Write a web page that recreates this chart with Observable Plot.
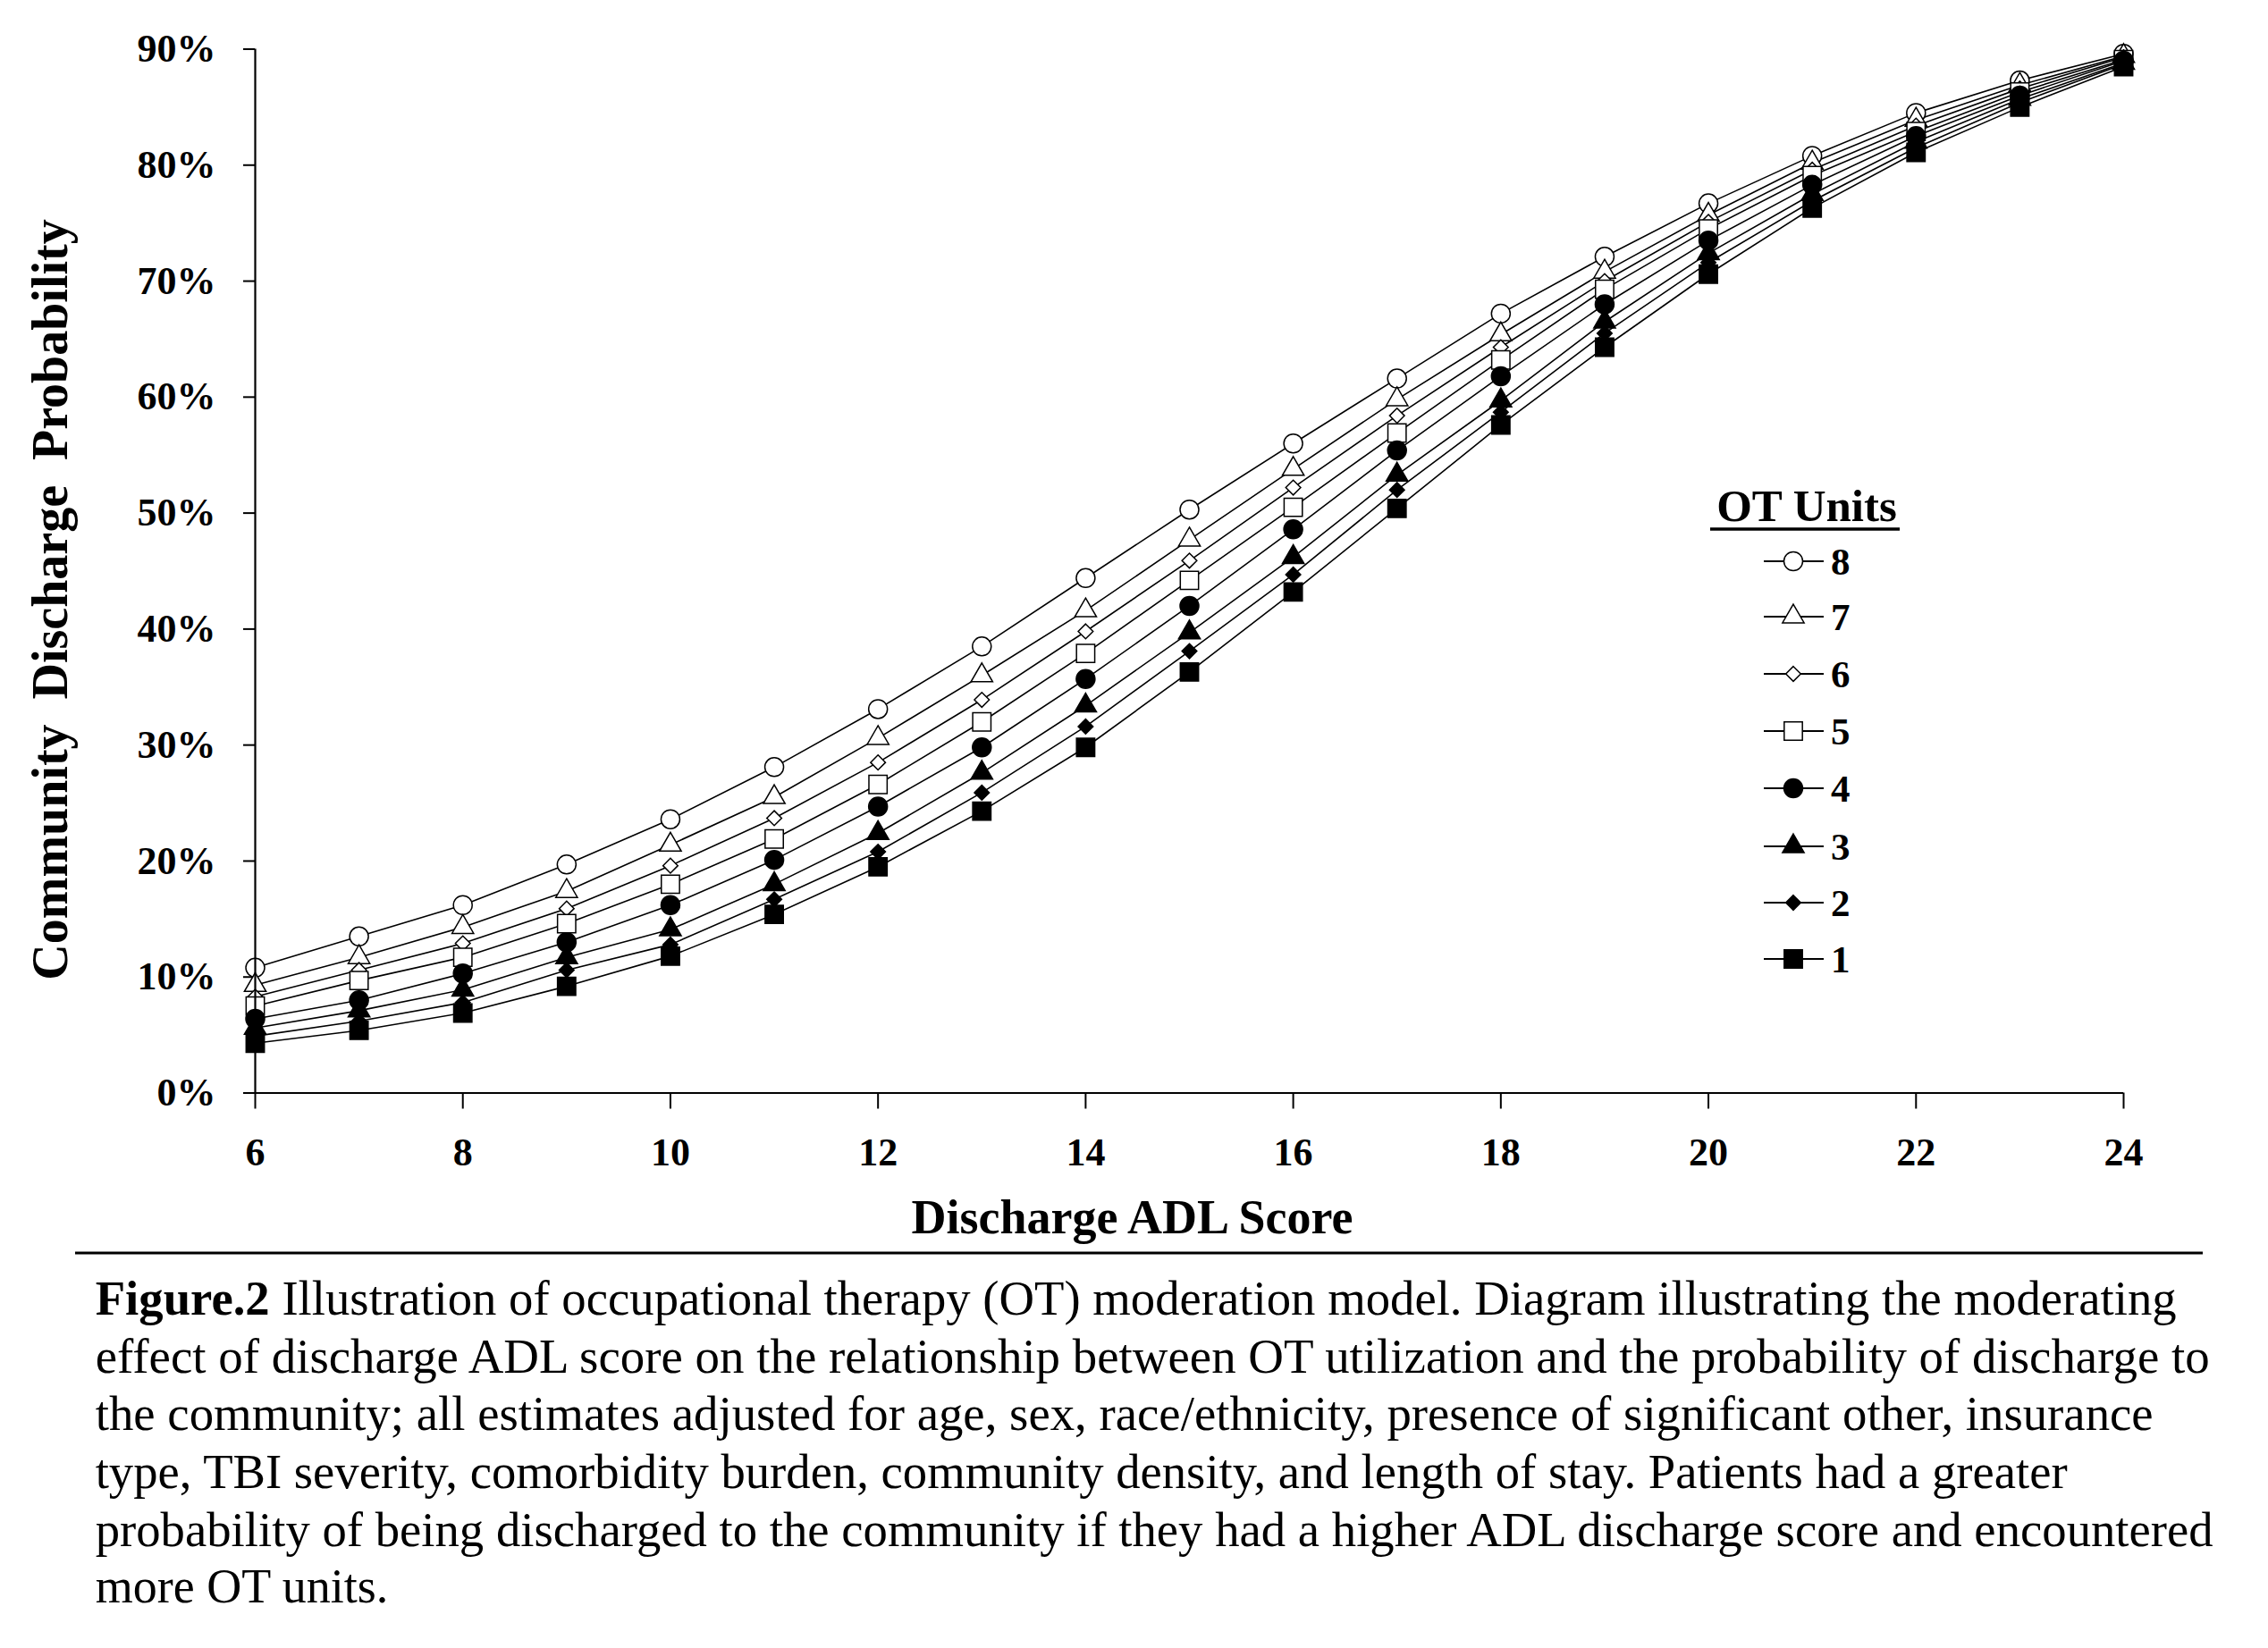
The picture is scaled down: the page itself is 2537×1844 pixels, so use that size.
<!DOCTYPE html>
<html>
<head>
<meta charset="utf-8">
<script src="https://cdn.jsdelivr.net/npm/d3@7"></script>
<script src="https://cdn.jsdelivr.net/npm/@observablehq/plot@0.6"></script>
<style>
  html, body { margin: 0; padding: 0; background: #fff; }
  body { width: 2537px; height: 1844px; position: relative; overflow: hidden;
         font-family: "Liberation Serif", "Times New Roman", serif; }
  #chart svg { display: block; }
  #legend { position: absolute; left: 0; top: 0; pointer-events: none; }
  #caption { display: block; }
</style>
</head>
<body>
<div id="chart"></div>
<svg id="legend" width="2537" height="1395"></svg>
<svg id="caption" width="2537" height="449"></svg>
<script>
// ---------------- data ----------------
const adlScores = [6, 7, 8, 9, 10, 11, 12, 13, 14, 15, 16, 17, 18, 19, 20, 21, 22, 23, 24];
const otUnits = [8, 7, 6, 5, 4, 3, 2, 1];
// community discharge probability (%) for each OT-units series, one value per ADL score
const ot8 = [10.8, 13.5, 16.2, 19.7, 23.6, 28.1, 33.1, 38.5, 44.4, 50.3, 56.0, 61.6, 67.2, 72.1, 76.7, 80.8, 84.5, 87.3, 89.6];
const ot7 = [9.3, 11.7, 14.3, 17.4, 21.4, 25.5, 30.6, 36.0, 41.6, 47.7, 53.8, 59.8, 65.4, 70.8, 75.7, 80.2, 83.9, 86.9, 89.4];
const ot6 = [8.3, 10.6, 12.9, 15.9, 19.6, 23.7, 28.5, 33.9, 39.8, 45.9, 52.2, 58.4, 64.3, 70.0, 75.1, 79.6, 83.4, 86.6, 89.3];
const ot5 = [7.5, 9.7, 11.7, 14.6, 18.0, 21.9, 26.6, 32.0, 37.9, 44.2, 50.5, 56.9, 63.2, 69.3, 74.5, 79.1, 82.9, 86.3, 89.1];
const ot4 = [6.4, 8.0, 10.3, 13.0, 16.2, 20.1, 24.7, 29.8, 35.7, 42.0, 48.6, 55.4, 61.8, 68.0, 73.5, 78.3, 82.5, 86.0, 89.0];
const ot3 = [5.6, 7.1, 8.9, 11.7, 14.1, 18.0, 22.4, 27.6, 33.4, 39.7, 46.2, 53.3, 59.7, 66.5, 72.4, 77.5, 82.0, 85.7, 88.8];
const ot2 = [4.9, 6.2, 7.8, 10.6, 12.8, 16.7, 20.8, 25.9, 31.6, 38.1, 44.7, 52.0, 58.7, 65.5, 71.6, 76.9, 81.5, 85.4, 88.7];
const ot1 = [4.3, 5.4, 6.9, 9.2, 11.8, 15.4, 19.5, 24.3, 29.8, 36.3, 43.2, 50.4, 57.6, 64.3, 70.6, 76.3, 81.1, 85.0, 88.5];

const xTicks = [6, 8, 10, 12, 14, 16, 18, 20, 22, 24];
const yTicks = [0, 10, 20, 30, 40, 50, 60, 70, 80, 90];
const xTitle = "Discharge ADL Score";
const yTitle = "Community  Discharge  Probability";
const legendTitle = "OT Units";
const captionBold = "Figure.2";
const captionLines = [
  " Illustration of occupational therapy (OT) moderation model. Diagram illustrating the moderating",
  "effect of discharge ADL score on the relationship between OT utilization and the probability of discharge to",
  "the community; all estimates adjusted for age, sex, race/ethnicity, presence of significant other, insurance",
  "type, TBI severity, comorbidity burden, community density, and length of stay. Patients had a greater",
  "probability of being discharged to the community if they had a higher ADL discharge score and encountered",
  "more OT units."
];

// ---------------- build table ----------------
const seriesList = [ot8, ot7, ot6, ot5, ot4, ot3, ot2, ot1];
const rows = otUnits.flatMap((u, i) => seriesList[i].map((v, j) => ({score: adlScores[j], units: u, pct: v})));

// marker styles per series (style only)
const markerStyle = {
  8: {symbol: "circle",   fill: "white", r: 10.5},
  7: {symbol: "triangle", fill: "white", r: 9},
  6: {symbol: "diamond2", fill: "white", r: 7.5},
  5: {symbol: "square",   fill: "white", r: 11.5},
  4: {symbol: "circle",   fill: "black", r: 10.5},
  3: {symbol: "triangle", fill: "black", r: 9},
  2: {symbol: "diamond2", fill: "black", r: 7.5},
  1: {symbol: "square",   fill: "black", r: 11.5}
};

const chart = Plot.plot({
  width: 2537,
  height: 1395,
  marginLeft: 285,
  marginRight: 162,
  marginTop: 54.5,
  marginBottom: 172.5,
  x: {domain: [6, 24], label: null},
  y: {domain: [0, 90], label: null},
  style: {fontFamily: "'Liberation Serif', 'Times New Roman', serif", fontWeight: "bold", color: "black", background: "white", overflow: "visible"},
  marks: [
    Plot.axisX({ticks: xTicks, tickSize: 18, tickPadding: 32, fontSize: 44, strokeWidth: 2, label: null}),
    Plot.axisY({ticks: yTicks, tickFormat: d => d + "%", tickSize: 13, tickPadding: 31, fontSize: 44, strokeWidth: 2, label: null}),
    Plot.line(rows, {x: "score", y: "pct", z: "units", stroke: "black", strokeWidth: 1.6}),
    ...otUnits.map(u => Plot.dot(rows.filter(d => d.units === u), {
      x: "score", y: "pct",
      symbol: markerStyle[u].symbol, fill: markerStyle[u].fill, r: markerStyle[u].r,
      stroke: "black", strokeWidth: 1.5
    })),
    Plot.ruleX([6], {stroke: "black", strokeWidth: 2.2}),
    Plot.ruleY([0], {stroke: "black", strokeWidth: 2.2}),
    Plot.text([xTitle], {text: d => d, frameAnchor: "bottom", textAnchor: "middle", dx: -64, dy: 140, lineAnchor: "middle", fontSize: 54, fontWeight: "bold", fill: "black"}),
    Plot.text([yTitle], {text: d => d, frameAnchor: "left", textAnchor: "middle", rotate: -90, dx: -228, dy: 32, lineAnchor: "middle", fontSize: 56, fontWeight: "bold", fill: "black"})
  ]
});
document.getElementById("chart").appendChild(chart);
chart.querySelectorAll("text").forEach(t => t.style.whiteSpace = "pre");

// ---------------- legend ----------------
const lg = d3.select("#legend");
const lgFont = "'Liberation Serif', 'Times New Roman', serif";
lg.append("text").attr("x", 2021).attr("y", 583).attr("text-anchor", "middle")
  .attr("font-family", lgFont).attr("font-weight", "bold").attr("font-size", 51).attr("fill", "black")
  .text(legendTitle);
lg.append("line").attr("x1", 1913).attr("x2", 2125).attr("y1", 592).attr("y2", 592)
  .attr("stroke", "black").attr("stroke-width", 3.5);
const symbolTypes = {circle: d3.symbolCircle, triangle: d3.symbolTriangle, diamond2: d3.symbolDiamond2, square: d3.symbolSquare};
const legendY = [628, 690, 754, 818, 882, 947, 1010, 1073];
otUnits.forEach((u, i) => {
  const y = legendY[i];
  const s = markerStyle[u];
  lg.append("line").attr("x1", 1973).attr("x2", 2040).attr("y1", y).attr("y2", y)
    .attr("stroke", "black").attr("stroke-width", 2);
  lg.append("path")
    .attr("d", d3.symbol(symbolTypes[s.symbol], Math.PI * s.r * s.r)())
    .attr("transform", `translate(2006,${y})`)
    .attr("fill", s.fill).attr("stroke", "black").attr("stroke-width", 1.5);
  lg.append("text").attr("x", 2048).attr("y", y).attr("dy", "0.35em")
    .attr("font-family", lgFont).attr("font-weight", "bold").attr("font-size", 43).attr("fill", "black")
    .text(String(u));
});

// ---------------- caption ----------------
const cap = d3.select("#caption");
cap.append("line").attr("x1", 84).attr("x2", 2464).attr("y1", 7).attr("y2", 7)
  .attr("stroke", "black").attr("stroke-width", 3);
const capBaselines = [75.7, 140.5, 205, 270, 335, 398];
const capWidths = [2328, 2365, 2302, 2206, 2369, null];
captionLines.forEach((line, i) => {
  const t = cap.append("text").attr("x", 106.7).attr("y", capBaselines[i])
    .attr("font-family", lgFont).attr("font-size", 54).attr("fill", "black")
    .style("white-space", "pre");
  if (i === 0) t.append("tspan").attr("font-weight", "bold").text(captionBold);
  t.append("tspan").text(line);
  if (capWidths[i]) t.attr("textLength", capWidths[i]).attr("lengthAdjust", "spacingAndGlyphs");
});
</script>
</body>
</html>
